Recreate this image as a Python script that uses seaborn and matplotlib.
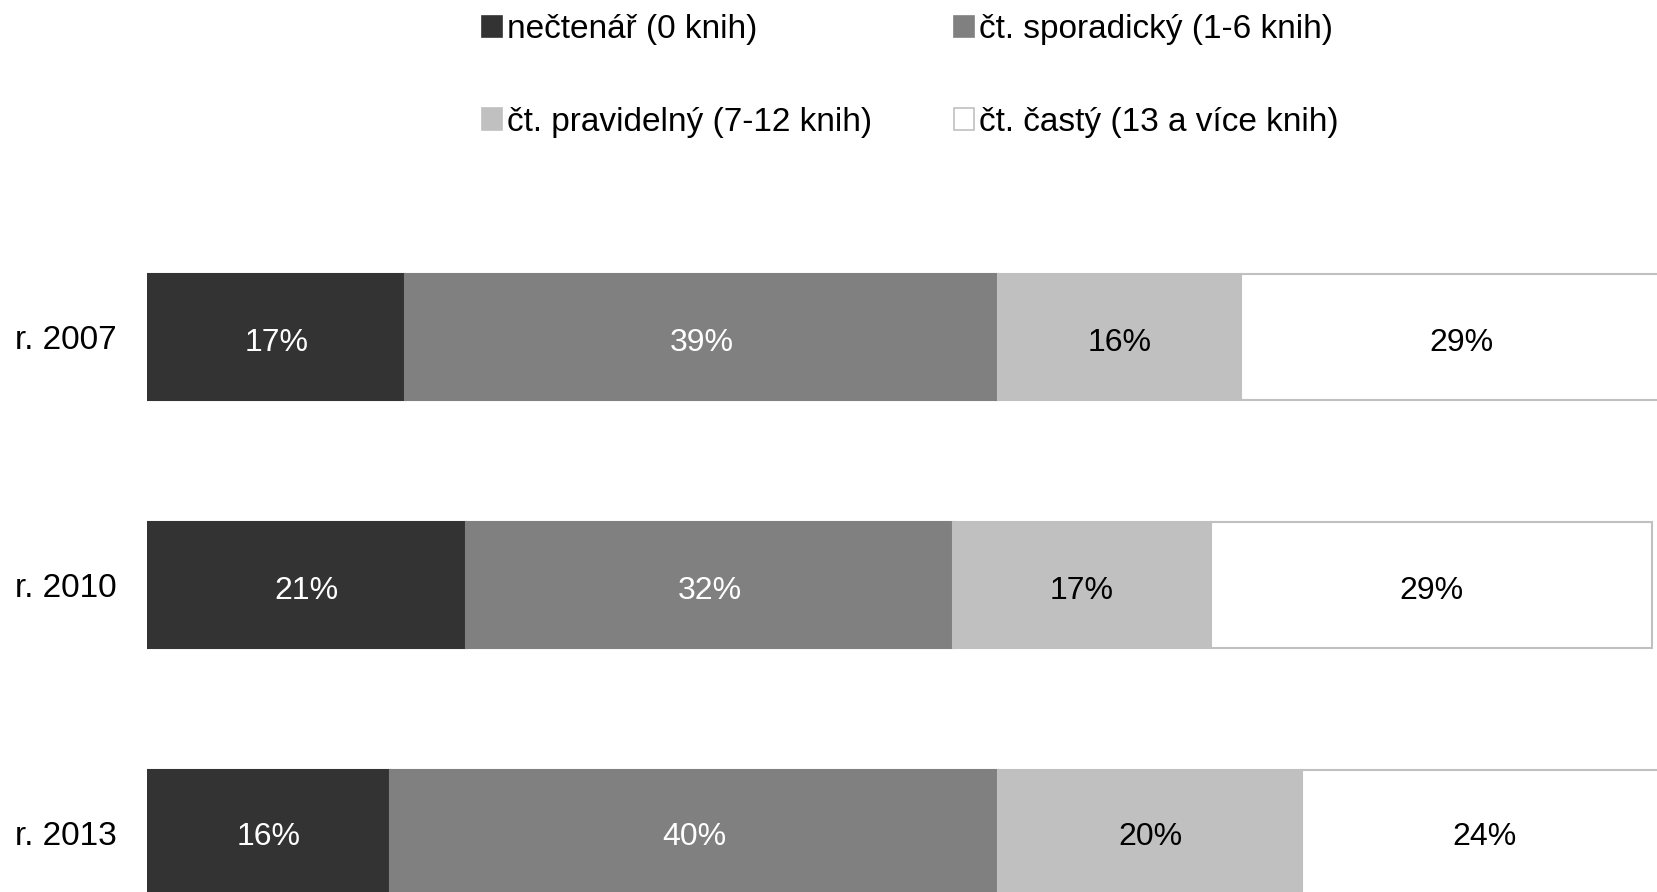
import numpy as np
import pandas as pd
import matplotlib
matplotlib.use('Agg')
import matplotlib.pyplot as plt
from matplotlib.patches import Patch
import seaborn as sns

years = ["r. 2007", "r. 2010", "r. 2013"]
categories = ["nečtenář (0 knih)", "čt. sporadický (1-6 knih)",
              "čt. pravidelný (7-12 knih)", "čt. častý (13 a více knih)"]
values = {
    "nečtenář (0 knih)": [17, 21, 16],
    "čt. sporadický (1-6 knih)": [39, 32, 40],
    "čt. pravidelný (7-12 knih)": [16, 17, 20],
    "čt. častý (13 a více knih)": [29, 29, 24],
}
colors = ["#333333", "#808080", "#c0c0c0", "#ffffff"]
edges = ["#333333", "#808080", "#c0c0c0", "#c0c0c0"]
text_colors = ["white", "white", "black", "black"]

sns.set_theme(style="white")
plt.rcParams['font.family'] = ['Liberation Sans', 'DejaVu Sans']

W, H = 1658, 892
fig = plt.figure(figsize=(W / 100, H / 100), dpi=100)
# axes: x=0 at px 147, 15.2 px per percent; the figure crops the right end
ax = fig.add_axes([147 / W, 0, 1520 * 1.1 / W, 1])

left = np.zeros(len(years))
for cat, col, ec, tc in zip(categories, colors, edges, text_colors):
    df = pd.DataFrame({"year": years, "value": values[cat]})
    sns.barplot(data=df, x="value", y="year", order=years, orient="h",
                color=col, edgecolor=ec, linewidth=1.5, width=0.51,
                left=left.copy(), saturation=1, ax=ax, errorbar=None)
    cont = ax.containers[-1]
    labels = ax.bar_label(cont, labels=[f"{v}%" for v in values[cat]],
                          label_type="center", color=tc, fontsize=23)
    for t in labels:
        t.set_verticalalignment("center_baseline")
        t.xyann = (0, -2)
    left += np.array(values[cat])

ax.set_xlim(0, 110)
ax.set_ylim(2 + (H - 833) / 248, -337 / 248)
ax.set_xlabel("")
ax.set_ylabel("")
ax.set_xticks([])
ax.tick_params(axis="y", length=0, pad=22, labelsize=24, labelcolor="black")
for s in ax.spines.values():
    s.set_visible(False)

handles = [Patch(facecolor=c, edgecolor=e, linewidth=1.2) for c, e in zip(colors, edges)]
# row-major order for two columns
order = [0, 2, 1, 3]
fig.legend([handles[i] for i in order], [categories[i] for i in order],
           ncol=2, loc="upper left", bbox_to_anchor=(482 / W, 1 - 14 / H),
           frameon=False, fontsize=24, borderpad=0, handlelength=0.6,
           handleheight=0.6, handletextpad=0.16, columnspacing=2.44,
           labelspacing=1.85, borderaxespad=0, labelcolor="black")

fig.savefig("out.png", dpi=100)
